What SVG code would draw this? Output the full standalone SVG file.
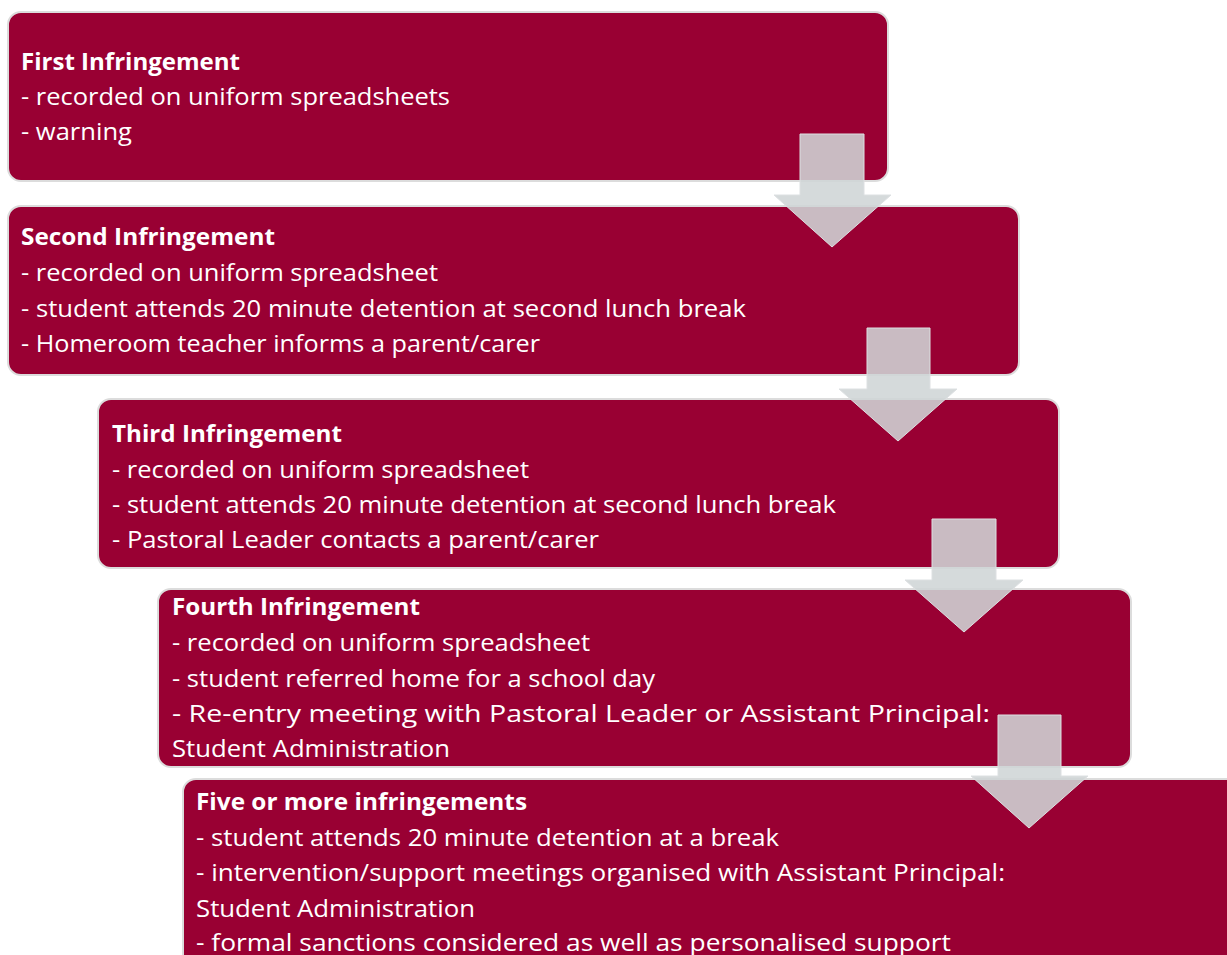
<svg xmlns="http://www.w3.org/2000/svg" width="1227" height="955" viewBox="0 0 1227 955">
<style>
.box{fill:#990033;stroke:#dcdcdc;stroke-width:2}
.t{font-family:"Open Sans","Liberation Sans",sans-serif;font-size:24px;fill:#ffffff}
.b{font-weight:bold}
.arr{fill:#cfd5d6;fill-opacity:0.88;stroke:#dde0e2;stroke-width:1}
</style>
<rect width="1227" height="955" fill="#ffffff"/>
<g id="node1">
<rect class="box" x="8" y="12" width="880" height="169" rx="13"/>
<text class="t b" x="21" y="70" textLength="219" lengthAdjust="spacingAndGlyphs">First Infringement</text>
<text class="t" x="21" y="105" textLength="429" lengthAdjust="spacingAndGlyphs">- recorded on uniform spreadsheets</text>
<text class="t" x="21" y="140" textLength="111" lengthAdjust="spacingAndGlyphs">- warning</text>
</g>
<g id="node2">
<rect class="box" x="8" y="206" width="1011" height="169" rx="13"/>
<text class="t b" x="21" y="245" textLength="254" lengthAdjust="spacingAndGlyphs">Second Infringement</text>
<text class="t" x="21" y="281" textLength="417" lengthAdjust="spacingAndGlyphs">- recorded on uniform spreadsheet</text>
<text class="t" x="21" y="317" textLength="725" lengthAdjust="spacingAndGlyphs">- student attends 20 minute detention at second lunch break</text>
<text class="t" x="21" y="352" textLength="519" lengthAdjust="spacingAndGlyphs">- Homeroom teacher informs a parent/carer</text>
</g>
<g id="node3">
<rect class="box" x="98" y="399" width="961" height="169" rx="13"/>
<text class="t b" x="112" y="442" textLength="230" lengthAdjust="spacingAndGlyphs">Third Infringement</text>
<text class="t" x="112" y="478" textLength="417" lengthAdjust="spacingAndGlyphs">- recorded on uniform spreadsheet</text>
<text class="t" x="112" y="513" textLength="724" lengthAdjust="spacingAndGlyphs">- student attends 20 minute detention at second lunch break</text>
<text class="t" x="112" y="548" textLength="487" lengthAdjust="spacingAndGlyphs">- Pastoral Leader contacts a parent/carer</text>
</g>
<g id="node4">
<rect class="box" x="158" y="589" width="973" height="178" rx="13"/>
<text class="t b" x="172" y="615" textLength="248" lengthAdjust="spacingAndGlyphs">Fourth Infringement</text>
<text class="t" x="172" y="651" textLength="418" lengthAdjust="spacingAndGlyphs">- recorded on uniform spreadsheet</text>
<text class="t" x="172" y="687" textLength="483" lengthAdjust="spacingAndGlyphs">- student referred home for a school day</text>
<text class="t" x="172" y="722" textLength="818" lengthAdjust="spacingAndGlyphs">- Re-entry meeting with Pastoral Leader or Assistant Principal:</text>
<text class="t" x="172" y="757" textLength="278" lengthAdjust="spacingAndGlyphs">Student Administration</text>
</g>
<g id="node5">
<rect class="box" x="183" y="779" width="1120" height="260" rx="13"/>
<text class="t b" x="196" y="810" textLength="331" lengthAdjust="spacingAndGlyphs">Five or more infringements</text>
<text class="t" x="196" y="846" textLength="583" lengthAdjust="spacingAndGlyphs">- student attends 20 minute detention at a break</text>
<text class="t" x="196" y="881" textLength="809" lengthAdjust="spacingAndGlyphs">- intervention/support meetings organised with Assistant Principal:</text>
<text class="t" x="196" y="917" textLength="279" lengthAdjust="spacingAndGlyphs">Student Administration</text>
<text class="t" x="196" y="951" textLength="755" lengthAdjust="spacingAndGlyphs">- formal sanctions considered as well as personalised support</text>
</g>
<g id="connectors">
<path class="arr" d="M800,134 H864 V195 H891 L832,247 L774,195 H800 Z"/>
<path class="arr" d="M867,328 H930 V389 H957 L898,441 L839,389 H867 Z"/>
<path class="arr" d="M932,519 H996 V580 H1023 L964,632 L905,580 H932 Z"/>
<path class="arr" d="M998,715 H1061 V776 H1088 L1029,828 L971,776 H998 Z"/>
</g>
</svg>
